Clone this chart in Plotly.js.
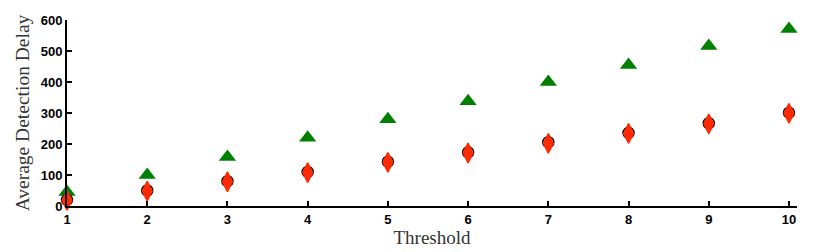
<!DOCTYPE html>
<html>
<head>
<meta charset="utf-8">
<script src="https://cdn.plot.ly/plotly-3.0.1.min.js"></script>
<style>html,body{margin:0;padding:0;background:#fff;}#chart{width:831px;height:252px;}</style>
</head>
<body>
<div id="chart"></div>
<script>
var thresholds = [1, 2, 3, 4, 5, 6, 7, 8, 9, 10];
var greenDelay = [45, 100, 158, 220, 280, 338, 400, 455, 516, 571];
var blackDelay = [20, 50, 80, 110, 143, 173, 206, 236, 267, 301];
var redDelay = [18, 48, 78, 108, 141, 171, 202, 234, 265, 299];
var yTicks = [0, 100, 200, 300, 400, 500, 600];

var traces = [
  {x: thresholds, y: greenDelay, mode: 'markers', type: 'scatter', cliponaxis: false,
   marker: {symbol: 'triangle-up', size: 15, color: '#008000', line: {width: 0}}},
  {x: thresholds, y: blackDelay, mode: 'markers', type: 'scatter', cliponaxis: false,
   marker: {symbol: 'circle-open', size: 11, color: '#000', line: {color: '#000', width: 1.5}}},
  {x: thresholds, y: redDelay, mode: 'markers', type: 'scatter', cliponaxis: false,
   marker: {symbol: 'diamond-tall', size: 14, color: '#ff2a00', line: {color: '#ff2a00', width: 1.5}}}
];

var layout = {
  width: 831, height: 252,
  margin: {l: 67, r: 34, t: 20, b: 46},
  showlegend: false,
  paper_bgcolor: '#fff', plot_bgcolor: '#fff',
  xaxis: {
    range: [1, 10.1], tickvals: thresholds, ticks: 'inside', ticklen: 5, tickwidth: 2,
    tickcolor: '#000', showline: true, linecolor: '#000', linewidth: 2, showgrid: false, zeroline: false,
    tickfont: {family: 'Liberation Sans, Arial', size: 13, color: '#000', weight: 'bold'},
    title: {text: 'Threshold', font: {family: 'Liberation Serif, Times New Roman', size: 19, color: '#333'}, standoff: 2}
  },
  yaxis: {
    range: [0, 600], tickvals: yTicks, ticks: 'inside', ticklen: 5, tickwidth: 2,
    tickcolor: '#000', showline: true, linecolor: '#000', linewidth: 2, showgrid: false, zeroline: false,
    tickfont: {family: 'Liberation Sans, Arial', size: 13, color: '#000', weight: 'bold'},
    title: {text: 'Average Detection Delay', font: {family: 'Liberation Serif, Times New Roman', size: 19.5, color: '#333'}, standoff: 6}
  }
};
Plotly.newPlot('chart', traces, layout, {displayModeBar: false, staticPlot: true});
</script>
</body>
</html>
